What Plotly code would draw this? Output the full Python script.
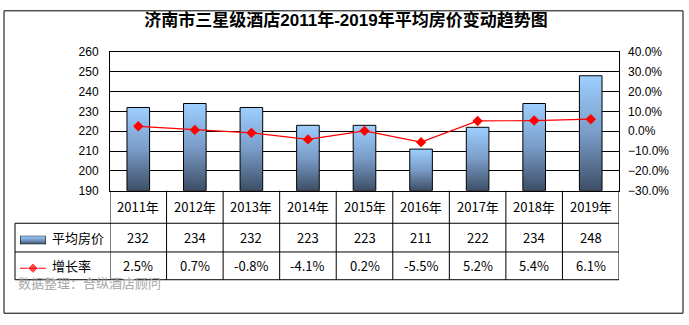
import plotly.graph_objects as go

# Average room rate of three-star hotels in Jinan, 2011-2019
years = ["2011年", "2012年", "2013年", "2014年", "2015年", "2016年", "2017年", "2018年", "2019年"]
avg_price = [232, 234, 232, 223, 223, 211, 222, 234, 248]
growth_pct = [2.5, 0.7, -0.8, -4.1, 0.2, -5.5, 5.2, 5.4, 6.1]

series_price = "平均房价"
series_growth = "增长率"
title_text = "济南市三星级酒店2011年-2019年平均房价变动趋势图"
source_text = "数据整理：合纵酒店顾问"

W, H = 689, 325
CJK = "Noto Sans CJK SC"
LATIN = "Liberation Sans, Arial, sans-serif"
TITLE_FONT = "Liberation Sans, Noto Sans CJK SC, sans-serif"
BAR_SCALE = [[0, "#3d4e66"], [0.5, "#7a9cc8"], [1, "#9dcfff"]]


def px(x):
    return x / W


def py(y):
    return 1 - y / H


# plot area and data-table geometry (pixels)
PL, PR, PT, PB = 110, 619, 47, 192
ROW1, ROW2, ROW3 = 226, 256, 285
TABLE_L = 15
Y_MIN, Y_MAX = 190, 260
R_MIN, R_MAX = -0.30, 0.40
HALF = 0.2

fig = go.Figure()

# gradient-filled columns, one polygon per year
for i, v in enumerate(avg_price):
    fig.add_trace(go.Scatter(
        x=[i - HALF, i + HALF, i + HALF, i - HALF, i - HALF],
        y=[Y_MIN, Y_MIN, v, v, Y_MIN],
        mode="lines", fill="toself",
        fillgradient=dict(type="vertical", colorscale=BAR_SCALE),
        line=dict(color="black", width=1),
        hoverinfo="skip", showlegend=False, xaxis="x", yaxis="y",
    ))

# growth-rate line on the secondary axis
fig.add_trace(go.Scatter(
    x=list(range(len(years))), y=[g / 100 for g in growth_pct],
    mode="lines+markers",
    line=dict(color="#ff0000", width=1.2),
    marker=dict(symbol="diamond", size=8, color="#ff0000"),
    showlegend=False, xaxis="x", yaxis="y2",
))

# legend key for the columns (inside the data table)
fig.add_trace(go.Scatter(
    x=[0, 1, 1, 0, 0], y=[0, 0, 1, 1, 0], mode="lines", fill="toself",
    fillgradient=dict(type="vertical", colorscale=BAR_SCALE),
    line=dict(color="black", width=1), hoverinfo="skip", showlegend=False,
    xaxis="x3", yaxis="y3",
))
# legend key for the line
fig.add_trace(go.Scatter(
    x=[0, 0.5, 1], y=[0.5, 0.5, 0.5], mode="lines+markers",
    line=dict(color="#ff0000", width=1.2),
    marker=dict(symbol="diamond", size=[0, 8, 0], color="#ff0000"),
    hoverinfo="skip", showlegend=False, xaxis="x4", yaxis="y4",
))

axis_font = dict(family=LATIN, size=12, color="black")
hidden = dict(visible=False, range=[0, 1], fixedrange=True)

fig.update_layout(
    width=W, height=H, autosize=False,
    margin=dict(l=0, r=0, t=0, b=0),
    paper_bgcolor="white", plot_bgcolor="white",
    title=dict(text=f"<b>{title_text}</b>", x=px(346), xanchor="center",
               y=py(20), yanchor="middle",
               font=dict(family=TITLE_FONT, size=17, color="black")),
    xaxis=dict(domain=[px(PL), px(PR)], range=[-0.5, len(years) - 0.5],
               showticklabels=False, showgrid=False, zeroline=False,
               showline=True, mirror=True, linecolor="black", linewidth=1,
               fixedrange=True),
    yaxis=dict(domain=[py(PB), py(PT)], range=[Y_MIN, Y_MAX], dtick=10,
               showgrid=True, gridcolor="black", gridwidth=1, zeroline=False,
               showline=True, mirror=True, linecolor="black", linewidth=1,
               tickfont=axis_font, ticks="", ticklabelstandoff=8,
               fixedrange=True),
    yaxis2=dict(overlaying="y", side="right", range=[R_MIN, R_MAX], dtick=0.1,
                tickformat=".1%", showgrid=False, zeroline=False,
                tickfont=axis_font, ticks="", ticklabelstandoff=8,
                fixedrange=True),
    xaxis3=dict(domain=[px(20), px(46)], anchor="y3", **hidden),
    yaxis3=dict(domain=[py(248), py(239)], anchor="x3", **hidden),
    xaxis4=dict(domain=[px(20), px(46)], anchor="y4", **hidden),
    yaxis4=dict(domain=[py(278), py(268)], anchor="x4", **hidden),
)

shapes = []
line_style = dict(color="black", width=1)
# outer frame
shapes.append(dict(type="rect", xref="paper", yref="paper",
                   x0=px(4), x1=px(683), y0=py(320), y1=py(4),
                   line=dict(color="black", width=1)))
# data table: vertical separators between the year columns
for i in range(len(years) + 1):
    shapes.append(dict(type="line", xref="x", yref="paper",
                       x0=i - 0.5, x1=i - 0.5, y0=py(ROW3), y1=py(PB),
                       line=line_style))
# data table: row separators and left edge
for yy in (ROW1, ROW2, ROW3):
    shapes.append(dict(type="line", xref="paper", yref="paper",
                       x0=px(TABLE_L), x1=px(PR), y0=py(yy), y1=py(yy),
                       line=line_style))
shapes.append(dict(type="line", xref="paper", yref="paper",
                   x0=px(TABLE_L), x1=px(TABLE_L), y0=py(ROW3), y1=py(ROW1),
                   line=line_style))
fig.update_layout(shapes=shapes)

cell_font = dict(family=CJK, size=13, color="black")
ann = []


def cell(x, y, text, xref="x", xanchor="center", font=cell_font):
    ann.append(dict(x=x, y=y, xref=xref, yref="paper", text=text,
                    xanchor=xanchor, yanchor="middle", showarrow=False,
                    font=font))


for i, (yr, p, g) in enumerate(zip(years, avg_price, growth_pct)):
    cell(i, py((PB + ROW1) / 2), yr)
    cell(i, py((ROW1 + ROW2) / 2), str(p))
    cell(i, py((ROW2 + ROW3) / 2), f"{g:.1f}%")
cell(px(50), py((ROW1 + ROW2) / 2), series_price, xref="paper", xanchor="left")
cell(px(50), py((ROW2 + ROW3) / 2), series_growth, xref="paper", xanchor="left")
cell(px(16), py(288), source_text, xref="paper", xanchor="left",
     font=dict(family=CJK, size=13, color="#a6a6a6"))
fig.update_layout(annotations=ann)

fig.write_html("out.html")
